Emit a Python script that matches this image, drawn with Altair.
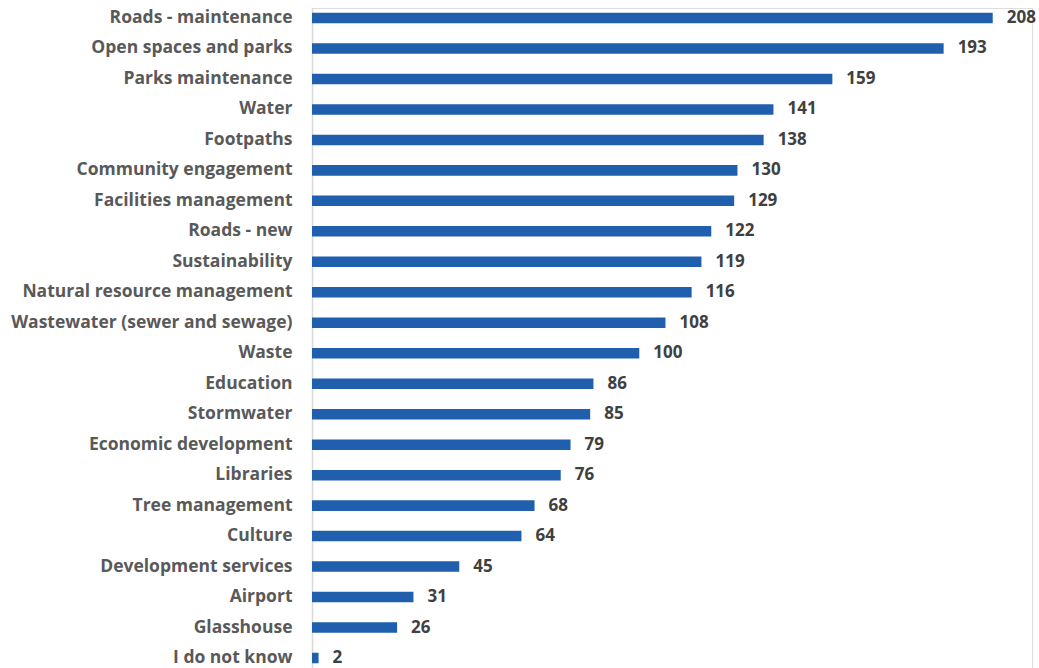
import altair as alt
import pandas as pd

categories = ["Roads - maintenance", "Open spaces and parks", "Parks maintenance", "Water",
              "Footpaths", "Community engagement", "Facilities management", "Roads - new",
              "Sustainability", "Natural resource management", "Wastewater (sewer and sewage)",
              "Waste", "Education", "Stormwater", "Economic development", "Libraries",
              "Tree management", "Culture", "Development services", "Airport", "Glasshouse",
              "I do not know"]
values = [208, 193, 159, 141, 138, 130, 129, 122, 119, 116, 108, 100, 86, 85, 79, 76, 68, 64, 45, 31, 26, 2]

df = pd.DataFrame({"category": categories, "value": values})

FONT = "Open Sans"

y = alt.Y("category:N", sort=categories, title=None,
          scale=alt.Scale(paddingInner=0.655, paddingOuter=0.1555),
          axis=alt.Axis(labelFont=FONT, labelFontSize=17.5, labelFontWeight="bold",
                        labelColor="#595959", labelPadding=20, ticks=False,
                        domainColor="#D9D9D9", domainWidth=1.5, labelLimit=400))
x = alt.X("value:Q", title=None, scale=alt.Scale(domain=[0, 220], nice=False),
          axis=None)

bars = alt.Chart(df).mark_bar(color="#1F5FAD").encode(x=x, y=y)
text = alt.Chart(df).mark_text(align="left", baseline="middle", dx=14, font=FONT,
                               fontSize=17, fontWeight="bold", color="#404040").encode(
    x=x, y=y, text="value:Q")

chart = (bars + text).properties(
    width=720, height=660,
    autosize=alt.AutoSizeParams(type="none"),
    padding={"left": 312, "top": 8, "right": 7, "bottom": 0},
).configure_view(stroke=None, clip=False).configure(background="white")

chart.save("out.html", embed_options={"renderer": "svg", "actions": False})
